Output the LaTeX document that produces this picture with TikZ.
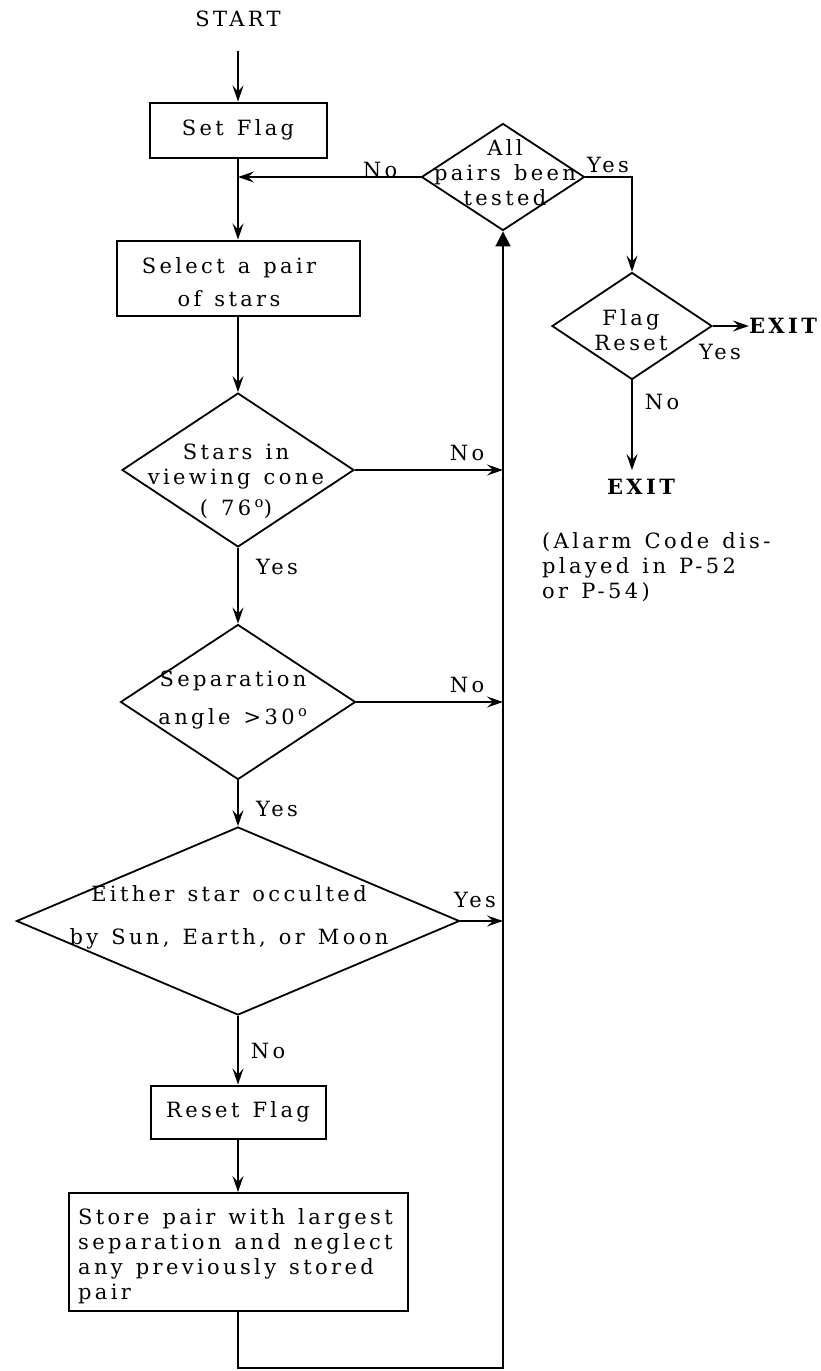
\documentclass[tikz,border=0pt]{standalone}
\usepackage{fontspec}
\setmainfont{DejaVu Serif}[LetterSpace=16, WordSpace=1.3]
\usetikzlibrary{arrows.meta, positioning, shapes.geometric, calc}

\tikzset{
    box/.style={draw, rectangle, line width=2pt, inner sep=0pt, align=center},
    dia/.style={draw, diamond, line width=1.8pt, inner sep=0pt},
    txt/.style={inner sep=0pt, align=center},
    lbl/.style={inner sep=0pt},
    flow/.style={line width=1.8pt, -{Stealth[length=16pt, width=11pt, inset=6pt]}},
    back/.style={line width=1.8pt, -{Triangle[length=15pt, width=15pt]}}
}

\begin{document}
\begin{tikzpicture}[x=1pt, y=-1pt, font=\fontsize{21}{25}\selectfont]
    % Define dimensions
    \def\colx{238}
    \def\busx{503}
    \def\busy{1368}
    \useasboundingbox (0,0) rectangle (820,1371);

    % Main column of boxes and decisions
    \node[lbl] (start) at (\colx,19) {START};
    \node[box, minimum width=177pt, minimum height=55pt] (setflag) at (\colx,130) {Set Flag};
    \node[box, minimum width=243pt, minimum height=75pt] (select) at (\colx,278) {};
    \node[txt] (selecttxt) at (229,282) {Select a pair\\[8pt]of stars};
    \node[dia, minimum width=232pt, minimum height=154pt] (cone) at (\colx,470) {};
    \node[txt] (conetxt) at (236,481) {Stars in\\viewing cone\\[6pt]( 76\,\textsuperscript{o})};
    \node[dia, minimum width=235pt, minimum height=155pt] (sep) at (\colx,702) {};
    \node[txt] (septxt) at (233,700) {Separation\\[13pt]angle >30\,\textsuperscript{o}};
    \node[dia, minimum width=443pt, minimum height=188pt] (occ) at (\colx,921) {};
    \node[txt] (occtxt) at (229,917) {Either star occulted\\[18pt]by Sun, Earth, or Moon};
    \node[box, minimum width=175pt, minimum height=53pt] (reset) at (\colx,1112) {Reset Flag};
    \node[box, minimum width=339pt, minimum height=118pt] (store) at (\colx,1252) {};
    \node[txt, anchor=west, align=left] (storetxt) at (78,1256)
        {Store pair with largest\\separation and neglect\\any previously stored\\pair};

    % Right hand decisions
    \node[dia, minimum width=163pt, minimum height=107pt] (allpairs) at (\busx,177) {};
    \node[txt] (alltxt) at (505,173) {All\\pairs been\\tested};
    \node[dia, minimum width=160pt, minimum height=107pt] (flag) at (632,326) {};
    \node[txt] (flagtxt) at (631,330) {Flag\\Reset};
    \node[lbl, font=\fontsize{21}{25}\selectfont\bfseries] (exitr) at (783,326) {EXIT};
    \node[lbl, font=\fontsize{21}{25}\selectfont\bfseries] (exitd) at (641,487) {EXIT};
    \node[lbl, anchor=north west, align=left] (alarm) at (542,532) {(Alarm Code dis-\\played in P-52\\or P-54)};

    % Main flow
    \coordinate (corner) at (\busx,\busy);
    \draw[flow, shorten <=24pt] (start) -- (setflag);
    \draw[flow] (setflag) -- (select);
    \draw[flow] (select) -- (cone);
    \draw[flow] (cone) -- (sep);
    \draw[flow] (sep) -- (occ);
    \draw[flow] (occ) -- (reset);
    \draw[flow] (reset) -- (store);

    % Rejected pairs go back to the test
    \draw[flow] (cone.east) -- (cone.east -| corner);
    \draw[flow] (sep.east) -- (sep.east -| corner);
    \draw[flow] (occ.east) -- (occ.east -| corner);
    \draw[back] (store.south) |- (corner) -- (allpairs.south);

    % Exits
    \draw[flow] (allpairs.west) -- (allpairs.west -| setflag.south);
    \draw[flow] (allpairs.east) -| (flag.north);
    \draw[flow] (flag.east) -- (exitr.west);
    \draw[flow, shorten >=9pt] (flag.south) -- (flag.south |- exitd.north);

    % Yes / No labels
    \node[lbl] (noall) at (380,170) {No};
    \node[lbl] (yesall) at (608,165) {Yes};
    \node[lbl] (nocone) at (467,453) {No};
    \node[lbl] (yescone) at (277,567) {Yes};
    \node[lbl] (nosep) at (467,685) {No};
    \node[lbl] (yessep) at (277,809) {Yes};
    \node[lbl] (yesocc) at (475,900) {Yes};
    \node[lbl] (noocc) at (268,1051) {No};
    \node[lbl] (yesflag) at (720,352) {Yes};
    \node[lbl] (noflag) at (662,402) {No};
\end{tikzpicture}
\end{document}
